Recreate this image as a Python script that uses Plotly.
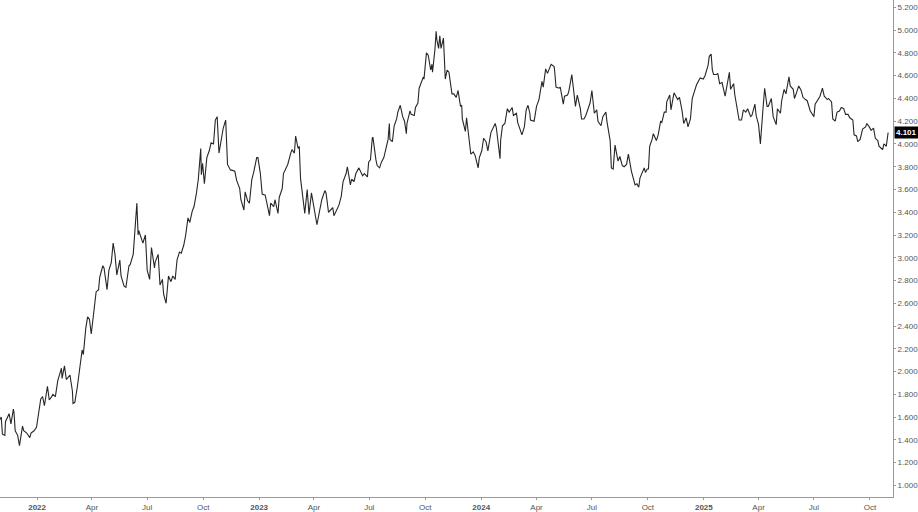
import plotly.graph_objects as go

# ---- data ----
data_2021 = """11-01 1.58|11-03 1.60|11-05 1.45|11-09 1.44|11-10 1.56|11-12 1.58|11-16 1.63|11-19 1.54|11-23 1.67|11-24 1.64|11-26 1.48|11-30 1.44|12-03 1.35|12-08 1.52|12-10 1.48|12-15 1.46|12-20 1.42|12-22 1.46|12-27 1.48|12-31 1.51"""
data_2022 = """01-04 1.66|01-07 1.76|01-10 1.78|01-13 1.70|01-18 1.87|01-21 1.75|01-25 1.78|01-27 1.80|01-31 1.78|02-04 1.92|02-10 2.03|02-11 1.94|02-15 2.05|02-18 1.93|02-24 1.97|02-28 1.83|03-01 1.72|03-04 1.73|03-08 1.86|03-11 2.00|03-16 2.19|03-18 2.15|03-22 2.38|03-25 2.48|03-28 2.46|03-31 2.33|04-05 2.55|04-08 2.70|04-12 2.72|04-14 2.83|04-19 2.93|04-21 2.91|04-26 2.72|04-29 2.89|05-03 2.96|05-06 3.13|05-09 3.03|05-12 2.85|05-17 2.98|05-19 2.84|05-24 2.75|05-27 2.74|06-01 2.93|06-03 2.94|06-08 3.03|06-10 3.16|06-14 3.48|06-16 3.20|06-17 3.24|06-22 3.16|06-24 3.13|06-28 3.20|06-30 3.01|07-01 2.89|07-05 2.81|07-08 3.09|07-13 2.91|07-14 2.96|07-19 3.03|07-21 2.89|07-22 2.76|07-26 2.81|07-28 2.68|08-01 2.60|08-05 2.84|08-09 2.79|08-12 2.84|08-16 2.81|08-19 2.98|08-23 3.05|08-26 3.04|08-30 3.11|09-02 3.19|09-06 3.35|09-09 3.31|09-13 3.41|09-16 3.45|09-20 3.57|09-23 3.69|09-27 3.96|09-28 3.73|09-30 3.83|10-03 3.65|10-07 3.88|10-11 3.94|10-14 4.01|10-18 4.00|10-21 4.21|10-24 4.24|10-27 3.92|10-31 4.05|11-03 4.14|11-07 4.21|11-10 3.82|11-15 3.77|11-17 3.77|11-22 3.76|11-25 3.68|11-30 3.61|12-02 3.51|12-07 3.42|12-09 3.58|12-13 3.50|12-16 3.48|12-20 3.69|12-23 3.75|12-28 3.88|12-30 3.88"""
data_2023 = """01-03 3.74|01-06 3.56|01-11 3.55|01-13 3.50|01-18 3.37|01-20 3.48|01-25 3.45|01-27 3.51|02-01 3.39|02-03 3.53|02-08 3.61|02-10 3.74|02-15 3.81|02-17 3.82|02-22 3.92|02-24 3.95|02-28 3.92|03-02 4.07|03-06 3.96|03-08 3.98|03-10 3.70|03-13 3.57|03-17 3.39|03-21 3.60|03-24 3.38|03-28 3.57|03-31 3.47|04-04 3.34|04-06 3.29|04-11 3.43|04-14 3.51|04-19 3.59|04-21 3.57|04-25 3.40|04-28 3.42|05-02 3.44|05-04 3.37|05-10 3.44|05-12 3.46|05-16 3.54|05-19 3.67|05-24 3.74|05-26 3.80|05-31 3.64|06-02 3.69|06-06 3.67|06-09 3.74|06-14 3.79|06-16 3.77|06-20 3.72|06-23 3.74|06-28 3.71|06-30 3.84|07-03 3.86|07-06 4.05|07-07 4.06|07-12 3.86|07-14 3.81|07-18 3.79|07-21 3.84|07-25 3.88|07-28 3.95|08-01 4.04|08-03 4.18|08-04 4.04|08-08 4.02|08-11 4.16|08-15 4.22|08-17 4.28|08-21 4.34|08-25 4.24|08-28 4.20|08-31 4.09|09-01 4.18|09-06 4.29|09-08 4.26|09-13 4.25|09-15 4.32|09-19 4.36|09-21 4.49|09-25 4.54|09-28 4.59|09-29 4.57|10-03 4.80|10-06 4.78|10-10 4.65|10-12 4.70|10-13 4.63|10-17 4.83|10-19 4.99|10-20 4.92|10-23 4.84|10-25 4.95|10-27 4.84|10-31 4.93|11-02 4.67|11-03 4.57|11-06 4.65|11-09 4.63|11-14 4.44|11-17 4.44|11-21 4.41|11-24 4.47|11-28 4.33|11-30 4.34|12-01 4.22|12-06 4.11|12-08 4.23|12-13 4.02|12-15 3.91|12-19 3.93|12-22 3.90|12-27 3.79|12-29 3.88"""
data_2024 = """01-02 3.94|01-05 4.05|01-09 4.02|01-12 3.94|01-17 4.10|01-19 4.12|01-24 4.18|01-26 4.14|01-31 3.91|02-01 3.87|02-02 4.03|02-05 4.16|02-09 4.18|02-13 4.31|02-16 4.28|02-21 4.32|02-23 4.25|02-28 4.27|03-01 4.19|03-07 4.09|03-08 4.08|03-12 4.15|03-15 4.30|03-18 4.34|03-21 4.27|03-22 4.21|03-28 4.20|04-01 4.33|04-05 4.39|04-10 4.55|04-12 4.50|04-16 4.66|04-19 4.62|04-25 4.70|04-30 4.68|05-01 4.63|05-03 4.50|05-08 4.49|05-10 4.50|05-15 4.35|05-17 4.42|05-22 4.43|05-24 4.46|05-29 4.61|05-31 4.50|06-04 4.33|06-07 4.43|06-12 4.31|06-14 4.22|06-18 4.22|06-21 4.25|06-26 4.32|06-28 4.36|07-01 4.47|07-05 4.27|07-09 4.30|07-11 4.20|07-16 4.16|07-19 4.24|07-24 4.28|07-26 4.19|07-31 4.03|08-02 3.79|08-05 3.78|08-08 3.99|08-13 3.85|08-16 3.89|08-20 3.81|08-23 3.80|08-27 3.82|08-30 3.91|09-04 3.76|09-06 3.71|09-10 3.64|09-13 3.65|09-16 3.62|09-18 3.70|09-20 3.73|09-25 3.79|09-27 3.75|09-30 3.78|10-02 3.78|10-04 3.98|10-08 4.04|10-10 4.09|10-15 4.03|10-18 4.08|10-22 4.20|10-24 4.19|10-28 4.28|10-31 4.28|11-01 4.37|11-06 4.43|11-08 4.30|11-13 4.45|11-15 4.43|11-19 4.39|11-22 4.41|11-26 4.30|11-29 4.18|12-03 4.23|12-06 4.15|12-10 4.22|12-13 4.40|12-18 4.50|12-20 4.52|12-26 4.58|12-31 4.57"""
data_2025 = """01-03 4.60|01-08 4.69|01-10 4.77|01-13 4.79|01-15 4.65|01-17 4.61|01-22 4.61|01-24 4.62|01-27 4.53|01-31 4.54|02-05 4.42|02-07 4.49|02-12 4.63|02-14 4.48|02-19 4.53|02-21 4.43|02-26 4.25|02-28 4.21|03-04 4.21|03-07 4.30|03-11 4.28|03-14 4.31|03-19 4.24|03-21 4.25|03-26 4.35|03-28 4.25|04-01 4.17|04-04 4.00|04-08 4.29|04-09 4.34|04-11 4.49|04-15 4.33|04-17 4.33|04-22 4.40|04-25 4.24|04-30 4.17|05-02 4.31|05-07 4.27|05-09 4.38|05-13 4.48|05-16 4.44|05-21 4.59|05-23 4.51|05-28 4.48|05-30 4.40|06-03 4.46|06-06 4.51|06-10 4.47|06-13 4.41|06-17 4.39|06-20 4.38|06-25 4.29|06-27 4.27|07-01 4.24|07-03 4.35|07-08 4.40|07-11 4.42|07-15 4.49|07-18 4.42|07-23 4.39|07-25 4.40|07-30 4.37|08-01 4.22|08-05 4.20|08-08 4.28|08-12 4.29|08-15 4.32|08-19 4.31|08-22 4.26|08-26 4.26|08-29 4.23|09-03 4.21|09-05 4.08|09-09 4.07|09-11 4.02|09-15 4.04|09-17 4.08|09-19 4.13|09-24 4.15|09-26 4.18|09-30 4.15|10-03 4.12|10-07 4.14|10-10 4.05|10-14 4.03|10-16 3.98|10-20 3.96|10-22 3.95|10-24 4.00|10-28 3.98|10-31 4.101"""

tick_dates = ["2022-01-01", "2022-04-01", "2022-07-01", "2022-10-01",
              "2023-01-01", "2023-04-01", "2023-07-01", "2023-10-01",
              "2024-01-01", "2024-04-01", "2024-07-01", "2024-10-01",
              "2025-01-01", "2025-04-01", "2025-07-01", "2025-10-01"]
tick_labels = ["<b>2022</b>", "Apr", "Jul", "Oct", "<b>2023</b>", "Apr", "Jul", "Oct",
               "<b>2024</b>", "Apr", "Jul", "Oct", "<b>2025</b>", "Apr", "Jul", "Oct"]

dates, values = [], []
for year, block in [(2021, data_2021), (2022, data_2022), (2023, data_2023),
                    (2024, data_2024), (2025, data_2025)]:
    for item in block.split("|"):
        md, v = item.split()
        dates.append(f"{year}-{md}")
        values.append(float(v))

last_value = values[-1]

fig = go.Figure()
fig.add_trace(go.Scatter(x=dates, y=values, mode="lines",
                         line=dict(color="#262626", width=1.1),
                         showlegend=False, hoverinfo="skip"))

fig.add_annotation(xref="paper", x=1, xanchor="left", xshift=1,
                   yref="y", y=last_value, yanchor="middle",
                   text=f"<b>{last_value:.3f}</b>", showarrow=False,
                   bgcolor="#000000", borderpad=1,
                   font=dict(color="#ffffff", size=8, family="Liberation Sans, Arial, sans-serif"))

fig.update_layout(
    width=918, height=512,
    margin=dict(l=0, r=23, t=0, b=12, pad=0),
    paper_bgcolor="#ffffff", plot_bgcolor="#ffffff",
    font=dict(family="Liberation Sans, Arial, sans-serif", size=8, color="#555555"),
    xaxis=dict(range=["2021-11-01", "2025-11-08"], tickmode="array",
               tickvals=tick_dates, ticktext=tick_labels,
               showgrid=False, zeroline=False, showline=True, linecolor="#999999",
               linewidth=1, ticks="outside", ticklen=2, tickcolor="#999999",
               tickfont=dict(size=8, color="#555555")),
    yaxis=dict(side="right", range=[0.898, 5.265], tick0=1.0, dtick=0.2,
               tickformat=".3f", showgrid=False, zeroline=False, showline=True,
               linecolor="#999999", linewidth=1, ticks="outside", ticklen=2,
               tickcolor="#999999", tickfont=dict(size=8, color="#555555")),
)

fig.write_html("out.html", config={"displayModeBar": False, "responsive": False},
               post_script="document.body.style.margin='0';document.body.style.overflow='hidden';")
